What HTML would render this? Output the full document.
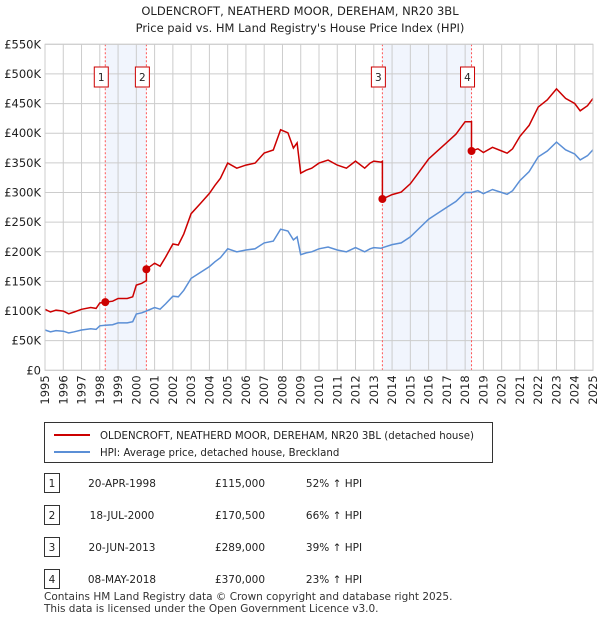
<!DOCTYPE html>
<html><head><meta charset="utf-8"><style>
body{margin:0;background:#fff;font-family:"Liberation Sans",sans-serif;}
svg text{font-family:"DejaVu Sans","Liberation Sans",sans-serif;}
</style></head><body>
<svg id="c" width="600" height="620" xmlns="http://www.w3.org/2000/svg">
<text x="300" y="15" text-anchor="middle" font-size="11.5" fill="#222">OLDENCROFT, NEATHERD MOOR, DEREHAM, NR20 3BL</text>
<text x="300" y="32" text-anchor="middle" font-size="11.5" fill="#222">Price paid vs. HM Land Registry's House Price Index (HPI)</text>
<g id="plot"></g>
<g>
<rect x="44.5" y="422.5" width="448" height="40" fill="#fff" stroke="#333"/>
<line x1="54" y1="435" x2="90" y2="435" stroke="#cc0000" stroke-width="2"/>
<text x="100" y="439" font-size="10.2" fill="#222">OLDENCROFT, NEATHERD MOOR, DEREHAM, NR20 3BL (detached house)</text>
<line x1="54" y1="452" x2="90" y2="452" stroke="#5b8fd6" stroke-width="2"/>
<text x="100" y="456" font-size="10.2" fill="#222">HPI: Average price, detached house, Breckland</text>
</g>
<g id="table" font-size="10.5" fill="#222"></g>
<text x="44" y="600" font-size="10.5" fill="#333">Contains HM Land Registry data © Crown copyright and database right 2025.</text>
<text x="44" y="612" font-size="10.5" fill="#333">This data is licensed under the Open Government Licence v3.0.</text>
</svg>
<script>
const hpiYears=[1995,1995.3,1995.6,1996,1996.3,1996.6,1997,1997.5,1997.8,1998,1998.3,1998.7,1999,1999.5,1999.8,2000,2000.3,2000.55,2001,2001.3,2001.6,2002,2002.3,2002.6,2003,2003.5,2004,2004.3,2004.6,2005,2005.5,2006,2006.5,2007,2007.5,2007.9,2008.3,2008.6,2008.8,2009,2009.3,2009.6,2010,2010.5,2011,2011.5,2012,2012.5,2012.8,2013,2013.4,2013.5,2014,2014.5,2015,2015.5,2016,2016.5,2017,2017.5,2018,2018.35,2018.7,2019,2019.5,2020,2020.3,2020.6,2021,2021.5,2022,2022.5,2023,2023.5,2024,2024.3,2024.7,2025];
const hpiValues=[68,65,67,66,63,65,68,70,69,75,76,77,80,80,82,95,97,100,106,103,112,125,124,135,155,165,175,183,190,205,200,203,205,215,218,238,235,220,225,195,198,200,205,208,203,200,207,200,205,207,206,207,212,215,225,240,255,265,275,285,300,300,303,298,305,300,297,303,320,335,360,370,385,372,365,355,362,372];
const saleLabels=["1","2","3","4"];
const saleYears=[1998.3,2000.55,2013.47,2018.35];
const saleDates=["20-APR-1998","18-JUL-2000","20-JUN-2013","08-MAY-2018"];
const salePrices=[115000,170500,289000,370000];
const salePriceText=["£115,000","£170,500","£289,000","£370,000"];
const saleHpiText=["52% ↑ HPI","66% ↑ HPI","39% ↑ HPI","23% ↑ HPI"];
const yTicks=[0,50,100,150,200,250,300,350,400,450,500,550];
const yTickLabels=["£0","£50K","£100K","£150K","£200K","£250K","£300K","£350K","£400K","£450K","£500K","£550K"];
const xTicks=[1995,1996,1997,1998,1999,2000,2001,2002,2003,2004,2005,2006,2007,2008,2009,2010,2011,2012,2013,2014,2015,2016,2017,2018,2019,2020,2021,2022,2023,2024,2025];

const NS="http://www.w3.org/2000/svg";
const X0=45,X1=593,Y0=370.3,Y1=44.3;
const xs=y=>X0+(y-1995)/30*(X1-X0);
const ys=v=>Y0-v/550*(Y0-Y1);
const plot=document.getElementById('plot');
function mk(tag,attrs,parent){const e=document.createElementNS(NS,tag);for(const k in attrs)e.setAttribute(k,attrs[k]);(parent||plot).appendChild(e);return e;}
function hpiAt(t){for(let i=1;i<hpiYears.length;i++){if(t<=hpiYears[i]){const f=(t-hpiYears[i-1])/(hpiYears[i]-hpiYears[i-1]);return hpiValues[i-1]+f*(hpiValues[i]-hpiValues[i-1]);}}return hpiValues[hpiValues.length-1];}

for(let i=0;i<saleYears.length;i+=2){
  const r=mk('rect',{x:xs(saleYears[i]),y:Y1,width:xs(saleYears[i+1])-xs(saleYears[i]),height:Y0-Y1,fill:'#eef3fd',opacity:0.8});
  
  
}
yTicks.forEach((v,i)=>{
  const l=mk('line',{x1:X0,x2:X1,y1:ys(v),y2:ys(v),stroke:'#cccccc'});
  
  
  const t=mk('text',{x:X0-4,y:ys(v)+4,'text-anchor':'end','font-size':11.5,fill:'#222'});
  t.textContent=yTickLabels[i];
  
  
});
xTicks.forEach(yr=>{
  const l=mk('line',{x1:xs(yr),x2:xs(yr),y1:Y1,y2:Y0,stroke:'#cccccc'});
  
  
  const t=mk('text',{x:0,y:0,'text-anchor':'end','font-size':11.5,fill:'#222',transform:`translate(${xs(yr)+4},${Y0+5}) rotate(-90)`});
  t.textContent=yr;
  
  
});
saleYears.forEach((sy,i)=>{
  const l=mk('line',{x1:xs(sy),x2:xs(sy),y1:Y1,y2:Y0,stroke:'#ff5555','stroke-dasharray':'2,2'});
  
  
  const b=mk('rect',{x:xs(sy)-11,y:67,width:14,height:20,fill:'#fff',stroke:'#cc0000'});
  
  
  const t=mk('text',{x:xs(sy)-4,y:81,'text-anchor':'middle','font-size':10.5,fill:'#222'});
  t.textContent=saleLabels[i];
  
  
});
let d='';hpiYears.forEach((yr,i)=>{d+=(i?'L':'M')+xs(yr).toFixed(1)+','+ys(hpiValues[i]).toFixed(1);});
const hl=mk('path',{d:d,fill:'none',stroke:'#5b8fd6','stroke-width':1.5});


function ratioAt(t){let k=0;for(let i=0;i<saleYears.length;i++)if(t>=saleYears[i])k=i;return salePrices[k]/1000/hpiAt(saleYears[k]);}
const pts=[...hpiYears,...saleYears].sort((a,b)=>a-b);
let pd='';
pts.forEach((t,i)=>{
  const si=saleYears.indexOf(t);
  if(si>0){const prev=salePrices[si-1]/1000/hpiAt(saleYears[si-1]);pd+='L'+xs(t).toFixed(1)+','+ys(hpiAt(t)*prev).toFixed(1);}
  pd+=(i?'L':'M')+xs(t).toFixed(1)+','+ys(hpiAt(t)*ratioAt(t)).toFixed(1);
});
const pl=mk('path',{d:pd,fill:'none',stroke:'#cc0000','stroke-width':1.5});


saleYears.forEach((sy,i)=>{
  const c=mk('circle',{cx:xs(sy),cy:ys(salePrices[i]/1000),r:4,fill:'#cc0000'});
  
  
});
const border=mk('rect',{x:X0,y:Y1,width:X1-X0,height:Y0-Y1,fill:'none',stroke:'#cccccc'});


const tb=document.getElementById('table');
saleYears.forEach((sy,i)=>{
  const y=486+i*32;
  const b=mk('rect',{x:44.5,y:y-12.5,width:15,height:19,fill:'#fff',stroke:'#333'},tb);
  
  
  const vals=[[saleLabels[i],52,'middle'],[saleDates[i],122,'middle'],[salePriceText[i],240,'middle'],[saleHpiText[i],334,'middle']];
  vals.forEach(v=>{
    const t=mk('text',{x:v[1],y:y+1,'text-anchor':v[2],'font-size':10.5,fill:'#222'},tb);
    t.textContent=v[0];
    
    
  });
});
</script>
</body></html>
